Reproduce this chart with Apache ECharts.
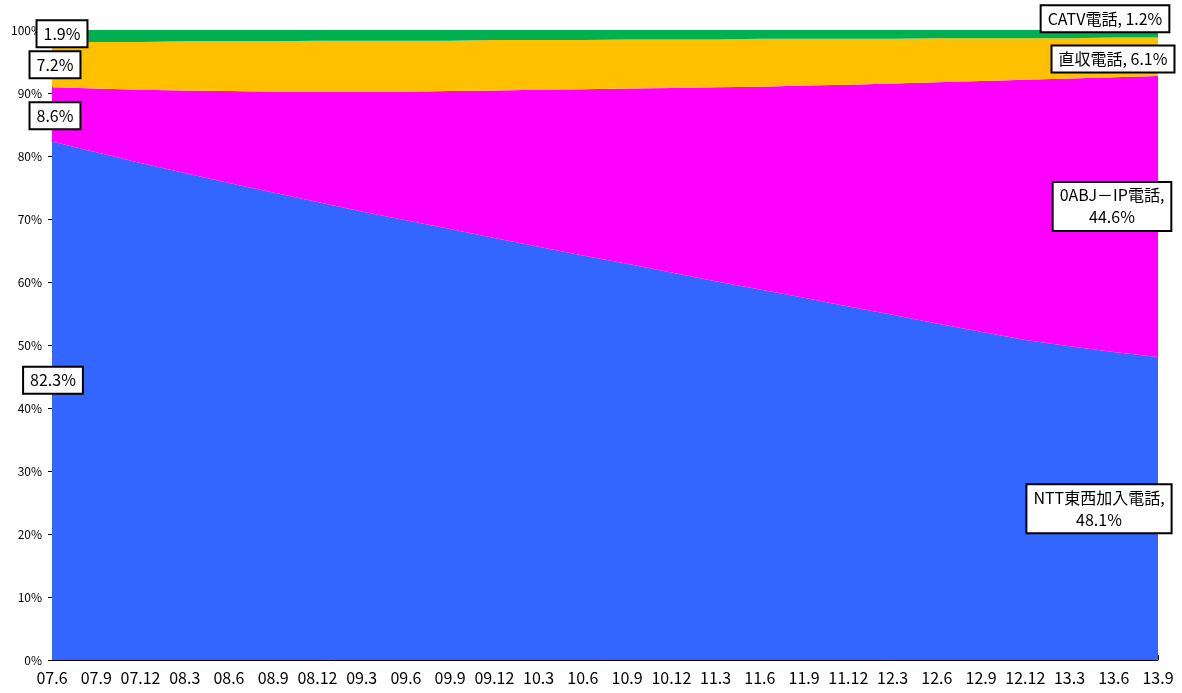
<!DOCTYPE html>
<html>
<head>
<meta charset="utf-8">
<script src="https://cdn.jsdelivr.net/npm/echarts@6/dist/echarts.min.js"></script>
<style>
html,body{margin:0;padding:0;background:#fff;}
#chart{width:1182px;height:693px;}
</style>
</head>
<body>
<div id="chart"></div>
<script>
const categories = ['07.6','07.9','07.12','08.3','08.6','08.9','08.12','09.3','09.6','09.9','09.12','10.3','10.6','10.9','10.12','11.3','11.6','11.9','11.12','12.3','12.6','12.9','12.12','13.3','13.6','13.9'];
const nttValues    = [82.3,80.6,78.9,77.3,75.7,74.2,72.7,71.2,69.8,68.4,67.0,65.6,64.2,62.9,61.5,60.1,58.8,57.5,56.1,54.8,53.4,52.1,50.8,49.8,48.9,48.1];
const ipValues     = [8.6,10.1,11.6,13.1,14.6,16.0,17.5,19.0,20.4,21.9,23.4,24.9,26.4,27.8,29.3,30.8,32.2,33.7,35.2,36.7,38.3,39.8,41.3,42.5,43.6,44.6];
const directValues = [7.2,7.4,7.6,7.8,7.9,8.0,8.1,8.1,8.1,8.0,8.0,7.9,7.8,7.8,7.7,7.6,7.6,7.4,7.3,7.1,7.0,6.8,6.6,6.4,6.3,6.1];
const catvValues   = [1.9,1.9,1.9,1.8,1.8,1.8,1.7,1.7,1.7,1.7,1.6,1.6,1.6,1.5,1.5,1.5,1.4,1.4,1.4,1.4,1.3,1.3,1.3,1.3,1.2,1.2];
const seriesNames  = ['NTT東西加入電話','0ABJ－IP電話','直収電話','CATV電話'];
const yTicks = [0,10,20,30,40,50,60,70,80,90,100];

const FONT = '"Noto Sans CJK JP", "Noto Sans", sans-serif';
const chart = echarts.init(document.getElementById('chart'), null, {renderer:'canvas'});

function areaSeries(name, data, color){
  return {
    name: name, type:'line', stack:'total', data: data,
    symbol:'none', smooth:false,
    lineStyle:{width:0, color: color},
    areaStyle:{color: color, opacity:1},
    emphasis:{disabled:true}
  };
}

chart.setOption({
  animation:false,
  grid:{left:52, right:24, top:30, bottom:33},
  xAxis:{
    type:'category', data:categories, boundaryGap:false,
    axisLine:{lineStyle:{color:'#000', width:1}},
    axisTick:{inside:true, length:5, alignWithLabel:true, lineStyle:{color:'#000'}},
    axisLabel:{color:'#000', fontSize:16, margin:10, interval:0, fontFamily:FONT}
  },
  yAxis:{
    type:'value', min:yTicks[0], max:yTicks[yTicks.length-1], interval:10,
    axisLine:{show:true, lineStyle:{color:'#000'}},
    axisTick:{show:true, length:4, lineStyle:{color:'#000'}},
    splitLine:{show:false},
    axisLabel:{color:'#000', fontSize:12, margin:10, fontFamily:FONT, formatter:'{value}%'}
  },
  series:[
    areaSeries(seriesNames[0], nttValues, '#3366FF'),
    areaSeries(seriesNames[1], ipValues, '#FF00FF'),
    areaSeries(seriesNames[2], directValues, '#FFC000'),
    areaSeries(seriesNames[3], catvValues, '#00B050')
  ]
});

const last = categories.length - 1;
function px(idx, val){ return chart.convertToPixel({gridIndex:0}, [idx, val]); }
function box(pos, dx, text){
  return {
    type:'text', x: pos[0] + dx, y: pos[1], z:100,
    style:{
      text:text, font:'16px ' + FONT, fill:'#000',
      align:'center', verticalAlign:'middle', lineHeight:22,
      backgroundColor:'#fff', borderColor:'#000', borderWidth:2,
      padding:[2,6,1,6]
    }
  };
}
const pct = v => v.toFixed(1) + '%';
chart.setOption({
  graphic:[
    box(px(0, 99.4), 10, pct(catvValues[0])),
    box(px(0, 94.5), 3, pct(directValues[0])),
    box(px(0, 86.4), 3, pct(ipValues[0])),
    box(px(0, 44.4), 1, pct(nttValues[0])),
    box(px(last, 101.8), -53, seriesNames[3] + ', ' + pct(catvValues[last])),
    box(px(last, 95.4), -45, seriesNames[2] + ', ' + pct(directValues[last])),
    box(px(last, 72.0), -46, seriesNames[1] + ',\n' + pct(ipValues[last])),
    box(px(last, 24.0), -59, seriesNames[0] + ',\n' + pct(nttValues[last]))
  ]
});
</script>
</body>
</html>
